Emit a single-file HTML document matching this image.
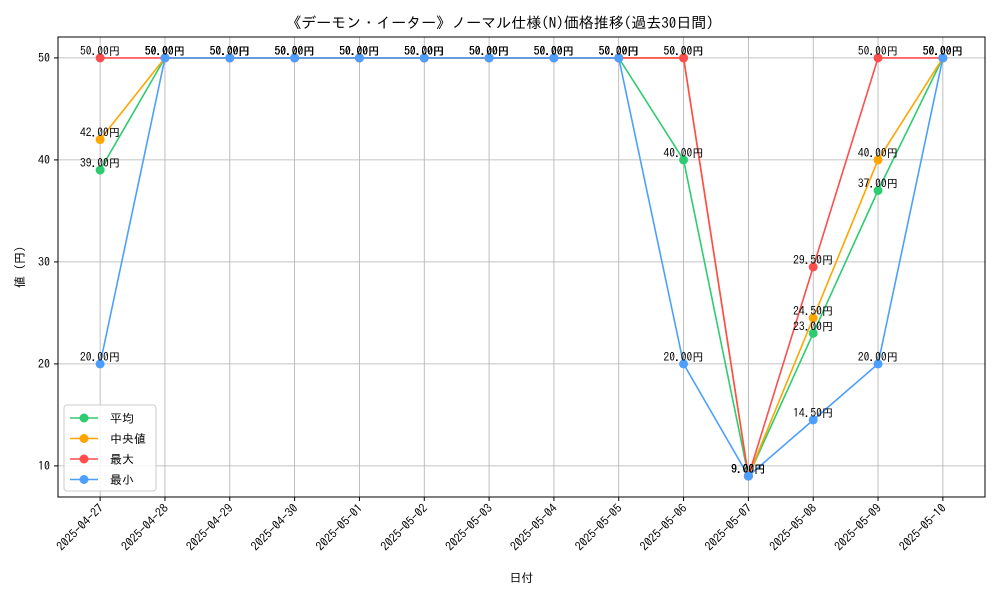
<!DOCTYPE html>
<html><head><meta charset="utf-8"><style>
body{margin:0;background:#fff;}
svg text{font-family:"IPAGothic","Noto Sans CJK JP","Liberation Sans",sans-serif;}
</style></head><body>
<svg id="chart" width="1000" height="600" xmlns="http://www.w3.org/2000/svg"></svg>
<script>
const dates=["2025-04-27","2025-04-28","2025-04-29","2025-04-30","2025-05-01","2025-05-02","2025-05-03","2025-05-04","2025-05-05","2025-05-06","2025-05-07","2025-05-08","2025-05-09","2025-05-10"];
const avgVals=[39,50,50,50,50,50,50,50,50,40,9,23,37,50];
const medVals=[42,50,50,50,50,50,50,50,50,50,9,24.5,40,50];
const maxVals=[50,50,50,50,50,50,50,50,50,50,9,29.5,50,50];
const minVals=[20,50,50,50,50,50,50,50,50,20,9,14.5,20,50];
const yTicks=[10,20,30,40,50];
const seriesNames=["平均","中央値","最大","最小"];
const colors=["#2ecc71","#ffa500","#ff4d4d","#4d9fff"];
const series=[avgVals,medVals,maxVals,minVals];

const svg=document.getElementById('chart');
const NS="http://www.w3.org/2000/svg";
const L=58,R=985,T=37,B=497;
const allV=series.flat();const vmin=Math.min(...allV),vmax=Math.max(...allV);
const pad=(vmax-vmin)*0.05;const y0=vmin-pad,y1=vmax+pad;
const n=dates.length;const xpad=(n-1)*0.05;
function X(i){return L+(i+xpad)/(n-1+2*xpad)*(R-L);}
function Y(v){return B-(v-y0)/(y1-y0)*(B-T);}
function el(t,a,txt){const e=document.createElementNS(NS,t);for(const k in a)e.setAttribute(k,a[k]);if(txt!==undefined)e.textContent=txt;svg.appendChild(e);return e;}

let e=el('text',{x:500,y:28,'text-anchor':'middle','font-size':15},'《デーモン・イーター》ノーマル仕様(N)価格推移(過去30日間)');

yTicks.forEach(v=>{
  let g=el('line',{x1:L,x2:R,y1:Y(v),y2:Y(v),stroke:'#b0b0b0','stroke-width':0.8});
  
  let tk=el('line',{x1:L-4,x2:L,y1:Y(v),y2:Y(v),stroke:'#000'});
  
  let t=el('text',{x:L-8,y:Y(v)+4,'text-anchor':'end','font-size':12},String(v));
  
});
dates.forEach((d,i)=>{
  let g=el('line',{x1:X(i),x2:X(i),y1:T,y2:B,stroke:'#b0b0b0','stroke-width':0.8});
  
  let tk=el('line',{x1:X(i),x2:X(i),y1:B,y2:B+4,stroke:'#000'});
  
  let t=el('text',{x:X(i)+4,y:B+12,'text-anchor':'end','font-size':12,transform:`rotate(-45 ${X(i)+4} ${B+12})`},d);
  
});
let fr=el('rect',{x:L,y:T,width:R-L,height:B-T,fill:'none',stroke:'#000','stroke-width':1});

e=el('text',{x:(L+R)/2,y:582,'text-anchor':'middle','font-size':12},'日付');

e=el('text',{x:24,y:(T+B)/2,'text-anchor':'middle','font-size':12,transform:`rotate(-90 24 ${(T+B)/2})`},'値 (円)');

series.forEach((vals,s)=>{
  let p=el('polyline',{points:vals.map((v,i)=>X(i)+','+Y(v)).join(' '),fill:'none',stroke:colors[s],'stroke-width':1.6});
  
  vals.forEach((v,i)=>{
    let c=el('circle',{cx:X(i),cy:Y(v),r:4.5,fill:colors[s]});
    
  });
});
series.forEach((vals,s)=>{
  vals.forEach((v,i)=>{
    let t=el('text',{x:X(i),y:Y(v)-3,'text-anchor':'middle','font-size':11.5},v.toFixed(2)+'円');
    
  });
});
let lg=el('rect',{x:64,y:405,width:92,height:86,fill:'#fff','fill-opacity':0.85,stroke:'#ccc',rx:3});

seriesNames.forEach((nm,s)=>{
  const yy=418+s*20.5;
  let l=el('line',{x1:70,x2:98,y1:yy,y2:yy,stroke:colors[s],'stroke-width':1.6});
  
  let c=el('circle',{cx:84,cy:yy,r:4.5,fill:colors[s]});
  
  let t=el('text',{x:110,y:yy+4.5,'font-size':12},nm);
  
});
</script>
</body></html>
